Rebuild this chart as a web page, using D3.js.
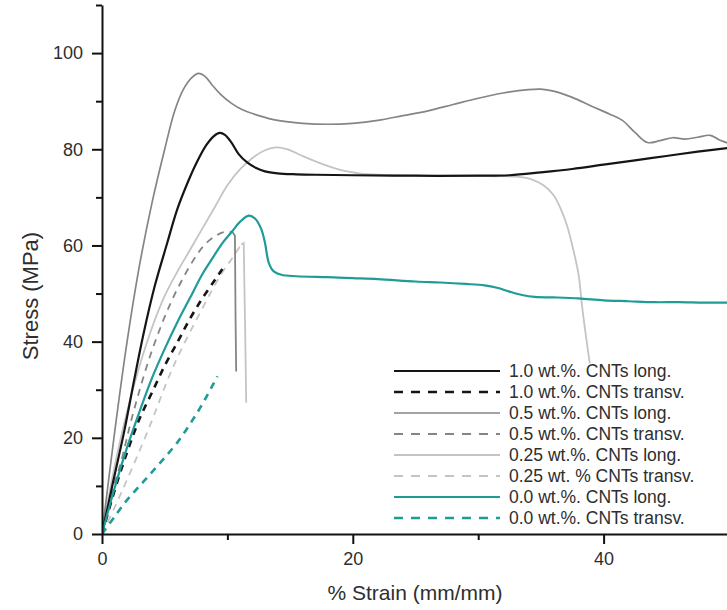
<!DOCTYPE html>
<html>
<head>
<meta charset="utf-8">
<script src="https://cdn.jsdelivr.net/npm/d3@7/dist/d3.min.js"></script>
<style>
  body { margin: 0; background: #fff; }
  text { font-family: "Liberation Sans", Arial, sans-serif; fill: #2e2e2e; }
</style>
</head>
<body>
<div id="chart"></div>
<script>
var svgWidth = 727;
var svgHeight = 610;

// ---- data ----
// 1.0 wt.% long
var c10LongX = [0, 0.9, 1.8, 2.6, 3.3, 4.2, 5.2, 6.0, 6.9, 7.6, 8.3, 8.9, 9.4, 9.8, 10.3, 10.9, 11.6, 12.3, 13, 14, 15.5, 17, 20, 25, 30, 32.5, 35, 37.5, 40, 42.5, 45, 47.5, 50];
var c10LongY = [0, 11, 21.7, 32.5, 41.5, 51.5, 60.5, 67.5, 73.5, 77.5, 80.8, 82.7, 83.4, 83, 81.5, 79, 77.2, 76.1, 75.4, 75, 74.8, 74.7, 74.6, 74.5, 74.5, 74.6, 75.2, 75.9, 76.8, 77.7, 78.6, 79.5, 80.3];
// 1.0 wt.% transv
var c10TrX = [0, 1, 2, 3, 4, 5, 6, 7, 8, 9, 9.6];
var c10TrY = [0, 9, 17, 24, 29.5, 35, 39.8, 44.7, 49, 52.8, 55.1];
// 0.5 wt.% long
var c05LongX = [0, 1, 2, 3, 4, 5, 5.8, 6.5, 7.2, 7.7, 8.2, 8.8, 9.5, 10.3, 11.2, 12.5, 14, 16, 18, 20, 22, 24, 26, 28, 30, 32, 34, 35, 36, 37.5, 39, 40.5, 41.5, 42.5, 43.5, 44.5, 45.5, 46.5, 47.5, 48.5, 49.2, 50];
var c05LongY = [0, 21, 40, 56, 69, 80, 88, 92.5, 95, 95.8, 95.2, 93.3, 91.3, 89.6, 88.2, 87, 86, 85.4, 85.2, 85.4, 86, 87, 88, 89.3, 90.6, 91.7, 92.4, 92.5, 92.1, 90.8, 89, 87.3, 86, 83.5, 81.4, 81.8, 82.4, 82.1, 82.5, 82.9, 82, 81.2];
// 0.5 wt.% transv (loading part, then break)
var c05TrX = [0, 1, 1.5, 2.5, 4.1, 6, 8.1, 9.2, 9.8, 10.4];
var c05TrY = [0, 10.5, 14.8, 25.3, 39, 50.9, 59.9, 62.2, 62.8, 62.8];
var c05BreakX = [10.4, 10.6, 10.65, 10.7];
var c05BreakY = [62.8, 62, 45, 33.8];
// 0.25 wt.% long
var c025LongX = [0, 1, 2, 3, 4, 5, 6, 7, 8, 9, 10, 11, 12, 13, 13.9, 14.8, 16, 17.5, 19, 20.5, 22, 25, 28, 31, 33, 34.2, 35.2, 36, 36.6, 37.1, 37.5, 38, 38.3, 38.6, 38.9];
var c025LongY = [0, 14, 25.5, 35, 43, 49.5, 54.5, 59, 63.5, 68, 72.5, 75.8, 78.2, 79.8, 80.4, 80, 78.6, 77, 75.7, 75, 74.7, 74.5, 74.4, 74.4, 74.3, 73.8, 72.5, 70.5, 67.5, 64, 60, 54, 47, 41, 35.5];
// 0.25 wt.% transv
var c025TrX = [0, 1, 2, 3.6, 5.7, 8.1, 9.5, 10.5, 11.1];
var c025TrY = [0, 5.5, 11.3, 21.1, 34.9, 47.4, 54, 57.8, 60.2];
var c025BreakX = [11.1, 11.3, 11.4, 11.5];
var c025BreakY = [60.2, 60.5, 45, 27.3];
// 0.0 wt.% long
var c00LongX = [0, 1, 2, 3, 4, 5, 6, 7, 8, 8.8, 9.6, 10.4, 11, 11.7, 12.2, 12.7, 13, 13.3, 13.7, 14.3, 15.5, 18, 20, 22, 25, 27, 29, 30.5, 31.5, 32.5, 33.5, 34.5, 36, 38, 40, 42, 44, 46, 48, 50];
var c00LongY = [0, 9.5, 18, 25.5, 32.5, 38.5, 44, 49, 54, 57.3, 60.5, 63, 64.9, 66.2, 65.6, 63.4, 60.5, 56.4, 54.6, 53.9, 53.6, 53.4, 53.2, 53, 52.5, 52.3, 52, 51.7, 51.2, 50.4, 49.7, 49.3, 49.2, 49, 48.6, 48.4, 48.2, 48.2, 48.1, 48.1];
// 0.0 wt.% transv
var c00TrX = [0, 1, 2, 3, 4, 5, 6, 7, 8, 9.2];
var c00TrY = [0, 3.6, 7.1, 10, 12.9, 15.9, 19, 22.8, 27, 32.8];

var legendLabels = [
    "1.0 wt.%. CNTs long.",
    "1.0 wt.%. CNTs transv.",
    "0.5 wt.%. CNTs long.",
    "0.5 wt.%. CNTs transv.",
    "0.25 wt.%. CNTs long.",
    "0.25 wt. % CNTs transv.",
    "0.0 wt.%. CNTs long.",
    "0.0 wt.%. CNTs transv."
];

var xTicks = [0, 10, 20, 30, 40];
var xTickLabels = [0, 20, 40];
var yTicks = [0, 10, 20, 30, 40, 50, 60, 70, 80, 90, 100, 110];
var yTickLabels = [0, 20, 40, 60, 80, 100];

// series styles (order = legend order)
var black = "#151515", midGray = "#858585", lightGray = "#c4c4c4", teal = "#1f9b98";
function zip(xs, ys) { return xs.map(function (x, i) { return [x, ys[i]]; }); }

var series = [
    { pts: zip(c10LongX, c10LongY), color: black, width: 2.2, dash: null },
    { pts: zip(c10TrX, c10TrY), color: black, width: 2.6, dash: "7,6" },
    { pts: zip(c05LongX, c05LongY), color: midGray, width: 1.7, dash: null },
    { pts: zip(c05TrX, c05TrY), color: midGray, width: 1.8, dash: "7,6", brk: zip(c05BreakX, c05BreakY) },
    { pts: zip(c025LongX, c025LongY), color: lightGray, width: 1.8, dash: null },
    { pts: zip(c025TrX, c025TrY), color: lightGray, width: 1.8, dash: "7,6", brk: zip(c025BreakX, c025BreakY) },
    { pts: zip(c00LongX, c00LongY), color: teal, width: 2.2, dash: null },
    { pts: zip(c00TrX, c00TrY), color: teal, width: 2.6, dash: "7,6" }
];

var svg = d3.select("#chart")
    .append("svg")
    .attr("width", svgWidth)
    .attr("height", svgHeight);

var x = d3.scaleLinear().domain([0, 50]).range([102, 729]);
var y = d3.scaleLinear().domain([0, 110]).range([534, 5]);

// clip to the plot area
svg.append("clipPath").attr("id", "plot")
    .append("rect")
    .attr("x", 102).attr("y", 0)
    .attr("width", svgWidth - 102).attr("height", 534);

var line = d3.line()
    .x(d => x(d[0]))
    .y(d => y(d[1]))
    .curve(d3.curveCatmullRom.alpha(0.5));

var plot = svg.append("g").attr("clip-path", "url(#plot)");

// draw lighter ones underneath
var drawOrder = [4, 5, 2, 3, 0, 1, 6, 7];
drawOrder.forEach(function (i) {
    var s = series[i];
    plot.append("path")
        .attr("d", line(s.pts))
        .attr("fill", "none")
        .attr("stroke", s.color)
        .attr("stroke-width", s.width)
        .attr("stroke-dasharray", s.dash);
    if (s.brk) {
        plot.append("path")
            .attr("d", d3.line().x(d => x(d[0])).y(d => y(d[1]))(s.brk))
            .attr("fill", "none")
            .attr("stroke", s.color)
            .attr("stroke-width", 1.8);
    }
});

// axes
var xAxis = svg.append("g")
    .attr("transform", "translate(0,534)")
    .call(d3.axisBottom(x)
        .tickValues(xTicks)
        .tickSize(10)
        .tickSizeOuter(0)
        .tickPadding(8)
        .tickFormat(d => xTickLabels.indexOf(d) >= 0 ? d : ""));

var yAxis = svg.append("g")
    .attr("transform", "translate(102,0)")
    .call(d3.axisLeft(y)
        .tickValues(yTicks)
        .tickSize(10)
        .tickSizeOuter(0)
        .tickPadding(9)
        .tickFormat(d => yTickLabels.indexOf(d) >= 0 ? d : ""));

[xAxis, yAxis].forEach(function (a) {
    a.select(".domain").attr("stroke", "#111").attr("stroke-width", 2);
    a.selectAll(".tick line").attr("stroke", "#111").attr("stroke-width", 2);
    a.selectAll(".tick text").attr("font-size", "18px").attr("fill", "#2e2e2e")
        .style("font-family", "'Liberation Sans', Arial, sans-serif");
});
// minor ticks shorter
xAxis.selectAll(".tick line").attr("y2", d => xTickLabels.indexOf(d) >= 0 ? 10 : 6);
yAxis.selectAll(".tick line").attr("x2", d => yTickLabels.indexOf(d) >= 0 ? -10 : -6);

// axis titles
svg.append("text")
    .attr("x", 415).attr("y", 600)
    .attr("text-anchor", "middle")
    .attr("font-size", "21px")
    .text("% Strain (mm/mm)");

svg.append("text")
    .attr("transform", "translate(38,296) rotate(-90)")
    .attr("text-anchor", "middle")
    .attr("font-size", "22px")
    .text("Stress (MPa)");

// legend
var legend = svg.append("g");
series.forEach(function (s, i) {
    var ly = 371 + i * 21;
    legend.append("line")
        .attr("x1", 394).attr("x2", 500)
        .attr("y1", ly).attr("y2", ly)
        .attr("stroke", s.color)
        .attr("stroke-width", s.width)
        .attr("stroke-dasharray", s.dash ? "9,8" : null);
    legend.append("text")
        .attr("x", 509).attr("y", ly)
        .attr("dominant-baseline", "central")
        .attr("font-size", "17.5px")
        .text(legendLabels[i]);
});
</script>
</body>
</html>
